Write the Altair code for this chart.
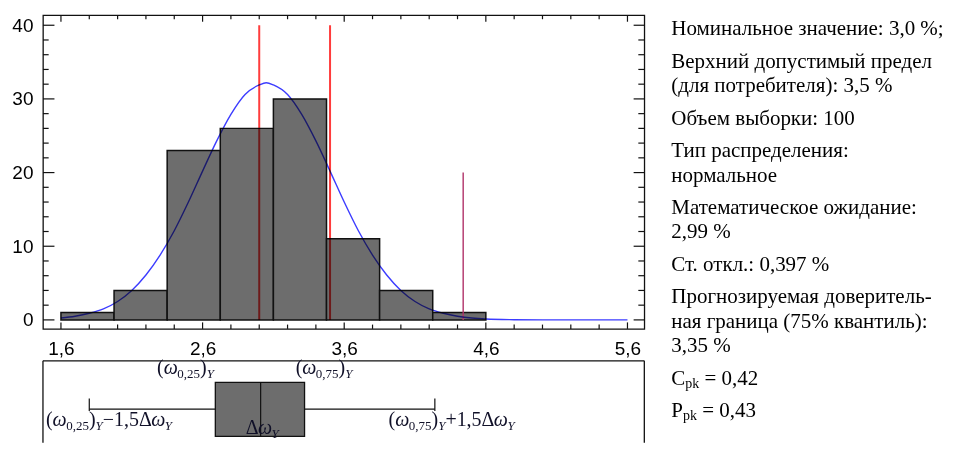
import altair as alt
import pandas as pd

# ---------------- data ----------------
BIN_EDGES = [1.6, 1.975, 2.35, 2.725, 3.1, 3.475, 3.85, 4.225, 4.6]
COUNTS = [1, 4, 23, 26, 30, 11, 4, 1]

CURVE_X = [1.6, 1.7, 1.8, 1.9, 2.0, 2.1, 2.2, 2.3, 2.4, 2.5, 2.6, 2.7, 2.8, 2.9, 3.0, 3.05,
           3.1, 3.2, 3.3, 3.4, 3.5, 3.6, 3.7, 3.8, 3.9, 4.0, 4.1, 4.2, 4.3, 4.4, 4.5,
           4.6, 4.8, 5.0, 5.3, 5.6]
CURVE_Y = [0.25, 0.5, 0.9, 1.5, 2.5, 4.0, 6.1, 8.8, 12.1, 16.0, 20.2, 24.3, 27.9, 30.6, 31.9, 32.2,
           31.9, 30.6, 27.9, 24.3, 20.2, 16.0, 12.1, 8.8, 6.1, 4.0, 2.5, 1.5, 0.9, 0.5, 0.25,
           0.12, 0.03, 0.0, 0.0, 0.0]

SPEC_LINE_X = [3.0, 3.5]
SPEC_LINE_TOP = [40, 40]
QUANT_LINE_X = [4.44]
QUANT_LINE_TOP = [20]

BOX_LOW, BOX_Q1, BOX_MED, BOX_Q3, BOX_HIGH = 1.80, 2.69, 3.01, 3.32, 4.24

X_TICKS = [1.6, 1.8, 2.0, 2.2, 2.4, 2.6, 2.8, 3.0, 3.2, 3.4, 3.6, 3.8, 4.0, 4.2, 4.4,
           4.6, 4.8, 5.0, 5.2, 5.4, 5.6]
X_LABEL_TICKS = [1.6, 2.6, 3.6, 4.6, 5.6]
Y_TICKS = [0, 2, 4, 6, 8, 10, 12, 14, 16, 18, 20, 22, 24, 26, 28, 30, 32, 34, 36, 38, 40]
Y_LABEL_TICKS = [0, 10, 20, 30, 40]

INFO_PARAGRAPHS = [
    ["Номинальное значение: 3,0 %;"],
    ["Верхний допустимый предел", "(для потребителя): 3,5 %"],
    ["Объем выборки: 100"],
    ["Тип распределения:", "нормальное"],
    ["Математическое ожидание:", "2,99 %"],
    ["Ст. откл.: 0,397 %"],
    ["Прогнозируемая доверитель-", "ная граница (75% квантиль):", "3,35 %"],
]
INDEX_LINES = [("C", "pk", "= 0,42"), ("P", "pk", "= 0,43")]

Q25_PIECES = [("(", "m"), ("ω", "mi"), ("0,25", "s"), (")", "m"), ("Y", "si")]
Q75_PIECES = [("(", "m"), ("ω", "mi"), ("0,75", "s"), (")", "m"), ("Y", "si")]
LOWER_PIECES = Q25_PIECES + [("−1,5", "m"), ("Δ", "m"), ("ω", "mi"), ("Y", "si")]
UPPER_PIECES = Q75_PIECES + [("+1,5", "m"), ("Δ", "m"), ("ω", "mi"), ("Y", "si")]
IQR_PIECES = [("Δ", "m"), ("ω", "mi"), ("Y", "si")]

# ---------------- layout ----------------
W = 602
H_HIST = 314
H_BOX = 82
X_DOMAIN = [1.473, 5.719]
Y_DOMAIN = [-1.22, 41.36]
PXU = W / (X_DOMAIN[1] - X_DOMAIN[0])
INK = "#111111"
GRAY = "#6d6d6d"
SERIF = "Liberation Serif"
SANS = "Liberation Sans"

xs = alt.Scale(domain=X_DOMAIN, nice=False, zero=False)
ys = alt.Scale(domain=Y_DOMAIN, nice=False, zero=False)

EM = {"(": .333, ")": .333, ",": .25, "Y": .556, "−": .564, "+": .564, "Δ": .612,
      "ω": .68, "C": .667, "P": .556, "p": .5, "k": .5, " ": .25, "=": .564}


def text_w(s, size):
    return sum(EM.get(c, 0.5) for c in s) * size


# ---------------- histogram panel ----------------
bars_df = pd.DataFrame({"x0": BIN_EDGES[:-1], "x1": BIN_EDGES[1:], "y0": [0] * len(COUNTS), "n": COUNTS})

x_axis = alt.Axis(values=X_LABEL_TICKS, labelExpr="replace(format(datum.value, '.1f'), '.', ',')",
                  ticks=False, tickSize=0, domain=False, grid=False, labelFont=SANS,
                  labelFontSize=19, labelColor="#000", labelPadding=11, title=None,
                  labelFlush=False, labelOverlap=False)
y_axis = alt.Axis(values=Y_LABEL_TICKS, format="d", ticks=False, tickSize=0, domain=False,
                  grid=False, labelFont=SANS, labelFontSize=19, labelColor="#000",
                  labelPadding=10, title=None)

XH = dict(scale=xs, axis=x_axis)
YH = dict(scale=ys, axis=y_axis)

bars = alt.Chart(bars_df).mark_rect(fill=GRAY, stroke=INK, strokeWidth=1.5).encode(
    x=alt.X("x0:Q", **XH), x2="x1:Q",
    y=alt.Y("y0:Q", **YH), y2="n:Q")

spec_df = pd.DataFrame({"x": SPEC_LINE_X, "top": SPEC_LINE_TOP, "y0": [0] * len(SPEC_LINE_X)})
spec = alt.Chart(spec_df).mark_rule(color="#ff3c3c", strokeWidth=2, blend="multiply").encode(
    x=alt.X("x:Q", **XH), y=alt.Y("y0:Q", **YH), y2="top:Q")

quant_df = pd.DataFrame({"x": QUANT_LINE_X, "top": QUANT_LINE_TOP, "y0": [0] * len(QUANT_LINE_X)})
quant = alt.Chart(quant_df).mark_rule(color="#b03268", strokeWidth=1.4).encode(
    x=alt.X("x:Q", **XH), y=alt.Y("y0:Q", **YH), y2="top:Q")

curve_df = pd.DataFrame({"cx": CURVE_X, "cy": CURVE_Y})
curve = alt.Chart(curve_df).mark_line(color="#3c3cff", strokeWidth=1.4, interpolate="monotone",
                                      blend="multiply").encode(
    x=alt.X("cx:Q", **XH), y=alt.Y("cy:Q", **YH))


def is_major(v, majors):
    return any(abs(v - m) < 1e-6 for m in majors)


def x_ticks(vals, length, side):
    df = pd.DataFrame({"v": vals})
    y1, y2 = (0, length) if side == "top" else (H_HIST - length, H_HIST)
    return alt.Chart(df).mark_rule(color=INK, strokeWidth=1.2).encode(
        x=alt.X("v:Q", **XH), y=alt.value(y1), y2=alt.value(y2))


def y_ticks(vals, length, side):
    df = pd.DataFrame({"v": vals})
    x1, x2 = (0, length) if side == "left" else (W - length, W)
    return alt.Chart(df).mark_rule(color=INK, strokeWidth=1.2).encode(
        y=alt.Y("v:Q", **YH), x=alt.value(x1), x2=alt.value(x2))


x_major = [v for v in X_TICKS if is_major(v, X_LABEL_TICKS)]
x_minor = [v for v in X_TICKS if not is_major(v, X_LABEL_TICKS)]
y_major = [v for v in Y_TICKS if is_major(v, Y_LABEL_TICKS)]
y_minor = [v for v in Y_TICKS if not is_major(v, Y_LABEL_TICKS)]

tick_layers = [
    x_ticks(x_major, 6.5, "top"), x_ticks(x_minor, 4, "top"),
    x_ticks(x_major, 6.5, "bottom"), x_ticks(x_minor, 4.3, "bottom"),
    y_ticks(y_major, 11.5, "left"), y_ticks(y_minor, 5.7, "left"),
    y_ticks(y_major, 10.7, "right"), y_ticks(y_minor, 6, "right"),
]

hist = alt.layer(bars, spec, quant, curve, *tick_layers).properties(
    width=W, height=H_HIST, view=alt.ViewBackground(stroke=INK, strokeWidth=1.3))

# ---------------- box plot panel ----------------
BOX_TOP, BOX_BOTTOM, WHISKER_Y, CAP_TOP = 21.6, 75.6, 48.3, 37.6
XB = dict(scale=xs, axis=None)
one = pd.DataFrame({"d": [0]})
frame_top = alt.Chart(one).mark_rule(color=INK, strokeWidth=1.3).encode(
    x=alt.value(0), x2=alt.value(W), y=alt.value(0))
frame_left = alt.Chart(one).mark_rule(color=INK, strokeWidth=1.3).encode(
    x=alt.value(0), y=alt.value(0), y2=alt.value(H_BOX))
frame_right = alt.Chart(one).mark_rule(color=INK, strokeWidth=1.3).encode(
    x=alt.value(W), y=alt.value(0), y2=alt.value(H_BOX))

whisk_df = pd.DataFrame({"a": [BOX_LOW, BOX_Q3], "b": [BOX_Q1, BOX_HIGH]})
whiskers = alt.Chart(whisk_df).mark_rule(color=INK, strokeWidth=1.2).encode(
    x=alt.X("a:Q", **XB), x2="b:Q", y=alt.value(WHISKER_Y))
caps_df = pd.DataFrame({"v": [BOX_LOW, BOX_HIGH]})
caps = alt.Chart(caps_df).mark_rule(color=INK, strokeWidth=1.2).encode(
    x=alt.X("v:Q", **XB), y=alt.value(CAP_TOP), y2=alt.value(WHISKER_Y + 2))
box_df = pd.DataFrame({"q1": [BOX_Q1], "q3": [BOX_Q3], "med": [BOX_MED]})
box_rect = alt.Chart(box_df).mark_rect(fill=GRAY, stroke=INK, strokeWidth=1.3).encode(
    x=alt.X("q1:Q", **XB), x2="q3:Q", y=alt.value(BOX_TOP), y2=alt.value(BOX_BOTTOM))
median = alt.Chart(box_df).mark_rule(color=INK, strokeWidth=1.2).encode(
    x=alt.X("med:Q", **XB), y=alt.value(BOX_TOP), y2=alt.value(BOX_BOTTOM))

BM, BS, BDROP = 20, 13, 4
BOX_LABELS = [
    (Q25_PIECES, 2.68, "right", 13.5),
    (Q75_PIECES, 3.257, "left", 13.5),
    (LOWER_PIECES, 1.494, "left", 65.6),
    (IQR_PIECES, 2.905, "left", 73.3),
    (UPPER_PIECES, 3.913, "left", 65.6),
]
rows = []
for pieces, anchor, align, base in BOX_LABELS:
    sizes = [BM if g.startswith("m") else BS for _, g in pieces]
    total = sum(text_w(t, s) for (t, _), s in zip(pieces, sizes))
    off = -total if align == "right" else 0
    for (t, g), s in zip(pieces, sizes):
        rows.append({"x": anchor + off / PXU, "py": base + (BDROP if g.startswith("s") else 0),
                     "t": t, "g": g})
        off += text_w(t, s)
blab = pd.DataFrame(rows)
STYLE = {"m": (BM, "normal"), "mi": (BM, "italic"), "s": (BS, "normal"), "si": (BS, "italic")}
box_text_layers = []
for g, (size, style) in STYLE.items():
    sub = blab[blab.g == g]
    if len(sub):
        box_text_layers.append(
            alt.Chart(sub).mark_text(align="left", baseline="alphabetic", font=SERIF,
                                     fontSize=size, fontStyle=style, color="#101028").encode(
                x=alt.X("x:Q", **XB), y=alt.Y("py:Q", scale=None, axis=None),
                text="t:N"))

box_panel = alt.layer(frame_top, frame_left, frame_right, whiskers, caps, box_rect, median,
                      *box_text_layers).properties(
    width=W, height=H_BOX, view=alt.ViewBackground(stroke="transparent"))

# ---------------- info text panel ----------------
TM, TS, TDROP = 21, 14, 3
LINE_H, PAR_GAP, FIRST_BASE = 24.5, 8, 20
trows = []
yb = FIRST_BASE
for par in INFO_PARAGRAPHS:
    for i, line in enumerate(par):
        trows.append({"px": 0, "py": yb + i * LINE_H, "t": line, "g": "m"})
    yb += len(par) * LINE_H + PAR_GAP
for big, small, rest in INDEX_LINES:
    w1 = text_w(big, TM)
    w2 = text_w(small, TS)
    trows.append({"px": 0, "py": yb, "t": big, "g": "m"})
    trows.append({"px": w1, "py": yb + TDROP, "t": small, "g": "s"})
    trows.append({"px": w1 + w2 + text_w(" ", TM), "py": yb, "t": rest, "g": "m"})
    yb += LINE_H + PAR_GAP
tdf = pd.DataFrame(trows)
info_layers = []
for g, size in (("m", TM), ("s", TS)):
    info_layers.append(
        alt.Chart(tdf[tdf.g == g]).mark_text(align="left", baseline="alphabetic", font=SERIF,
                                             fontSize=size, color="#000").encode(
            x=alt.X("px:Q", scale=None, axis=None), y=alt.Y("py:Q", scale=None, axis=None),
            text="t:N"))
info = alt.layer(*info_layers).properties(
    width=262, height=H_HIST + 32 + H_BOX, view=alt.ViewBackground(stroke="transparent"))

left = alt.vconcat(hist, box_panel, spacing=32, bounds="flush")
chart = alt.hconcat(left, info, spacing=24).properties(
    padding={"left": 3, "top": 5, "right": 0, "bottom": 0})

chart.save("out.html", embed_options={"renderer": "svg", "actions": False})
